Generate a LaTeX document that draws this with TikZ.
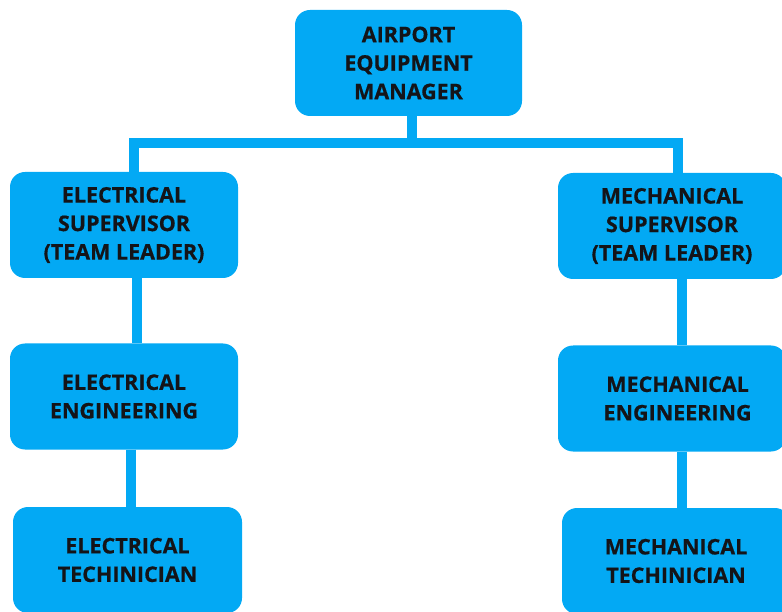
\documentclass[tikz,border=0pt]{standalone}
\usepackage{fontspec}
\setmainfont{Open Sans}[BoldFeatures={FakeBold=0.6}]
\usetikzlibrary{backgrounds}
\definecolor{orgblue}{RGB}{3,169,244}
\definecolor{orgtext}{RGB}{20,20,24}
\begin{document}
\begin{tikzpicture}[
      x=1pt, y=-1pt,
      every node/.style={font=\bfseries\fontsize{21.5}{28.5}\selectfont, text=orgtext},
      unit/.style={fill=orgblue, rounded corners=15pt, minimum width=228pt, minimum height=106pt, inner sep=0pt, align=center},
      link/.style={draw=orgblue, line width=10pt, line join=miter}
    ]
      \useasboundingbox (0,0) rectangle (782,612);
      \coordinate (bar) at (411.5,143);
      \node[unit, minimum width=227pt] (mgr) at (408.5,63) {AIRPORT\\EQUIPMENT\\MANAGER};
      \node[unit] (esup) at (124,225) {ELECTRICAL\\SUPERVISOR\\(TEAM LEADER)};
      \node[unit] (msup) at (672,226) {MECHANICAL\\SUPERVISOR\\(TEAM LEADER)};
      \node[unit] (eeng) at (124,396.5) {ELECTRICAL\\ENGINEERING};
      \node[unit] (meng) at (672,398.5) {~~MECHANICAL\\~~ENGINEERING};
      \node[unit, minimum width=229pt] (etech) at (127.5,560) {ELECTRICAL\\TECHINICIAN};
      \node[unit] (mtech) at (676,561) {MECHANICAL\\TECHINICIAN};

      % links behind the boxes
      \begin{scope}[on background layer]
        \draw[link] ([xshift=3pt]mgr.south) -- (bar);
        \draw[link] (bar) -| ([xshift=9.5pt]esup.north);
        \draw[link] (bar) -| ([xshift=5.5pt]msup.north);
        \draw[link] ([xshift=12.5pt]esup.south) -- ([xshift=12.5pt]eeng.north);
        \draw[link] ([xshift=6.5pt]eeng.south) -- ([xshift=3pt]etech.north);
        \draw[link] ([xshift=9.5pt]msup.south) -- ([xshift=9.5pt]meng.north);
        \draw[link] ([xshift=10pt]meng.south) -- ([xshift=6pt]mtech.north);
      \end{scope}
    \end{tikzpicture}
\end{document}
